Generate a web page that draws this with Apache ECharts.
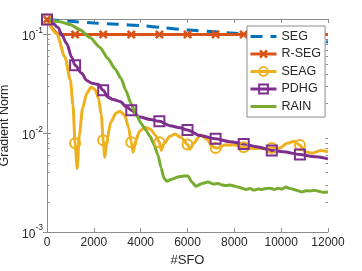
<!DOCTYPE html>
<html><head><meta charset="utf-8">
<script src="https://cdn.jsdelivr.net/npm/echarts@6/dist/echarts.min.js"></script>
<style>html,body{margin:0;padding:0;background:#fff}#c{width:362px;height:271px}</style>
</head><body><div id="c"></div>
<script>
// ---- data ----
const xTicks = [0, 2000, 4000, 6000, 8000, 10000, 12000];
const yMajorTicks = [0.001, 0.01, 0.1];
const yMinorTicks = [0.002,0.003,0.004,0.005,0.006,0.007,0.008,0.009,0.02,0.03,0.04,0.05,0.06,0.07,0.08,0.09];
const markX = [0,1200,2400,3600,4800,6000,7200,8400,9600,10800];

const segX = [0,1000,2000,3000,4000,5000,6000,7000,8000,9000,10000,11000,12000];
const segY = [0.142,0.136,0.131,0.127,0.123,0.117,0.111,0.107,0.103,0.099,0.094,0.089,0.084];

const rsegX = [0,200,400,600,1200,2400,3600,4800,6000,7200,8400,9600,10800,12000];
const rsegY = [0.142,0.118,0.104,0.1,0.1,0.1,0.1,0.1,0.1,0.1,0.1,0.1,0.1,0.1];

const seagX = [0,414,769,1000,1110,1200,1290,1380,1520,1700,1880,2050,2200,2320,2400,2470,2560,2720,2940,3120,3320,3480,3600,3680,3780,3950,4180,4420,4620,4800,4880,5000,5250,5470,5720,6000,6100,6250,6560,6830,7050,7200,7300,7600,8000,8400,8850,9250,9600,9950,10250,10550,10800,11000,11350,11700,12000];
const seagY = [0.142,0.102,0.0587,0.0343,0.0192,0.0079,0.0044,0.0096,0.0179,0.0254,0.0292,0.0278,0.0226,0.0152,0.0085,0.0057,0.0085,0.0129,0.0159,0.0167,0.0152,0.0115,0.0081,0.0064,0.0083,0.0105,0.0115,0.011,0.0096,0.0081,0.0067,0.0079,0.0093,0.0098,0.0091,0.0077,0.0069,0.0079,0.0096,0.0087,0.0074,0.0071,0.0071,0.0076,0.0076,0.0072,0.007,0.007,0.0071,0.0071,0.0079,0.0083,0.0076,0.0065,0.0063,0.0067,0.0065];

const pdhgX = [0,213,470,640,841,1055,1200,1482,1695,1922,2178,2400,2605,2819,3117,3403,3600,3971,4398,4800,5252,5679,6000,6533,7200,7814,8400,8955,9600,10078,10800,11358,12000];
const pdhgY = [0.142,0.132,0.118,0.098,0.081,0.0587,0.0487,0.0404,0.0343,0.032,0.0313,0.0272,0.0231,0.022,0.021,0.0185,0.0171,0.0146,0.0138,0.0132,0.0119,0.0114,0.0108,0.0095,0.0088,0.0082,0.0078,0.0073,0.0067,0.0065,0.0061,0.0058,0.0055];

const rainX = [0,555,982,1409,1836,2263,2605,2904,3160,3373,3587,3800,4014,4227,4398,4569,4740,4868,4996,5124,5338,5594,5850,6020,6191,6362,6618,6874,7131,7300,7472,7650,7814,8000,8156,8330,8497,8670,8839,9000,9181,9350,9522,9700,9864,10030,10206,10380,10547,10720,10889,11060,11230,11400,11572,11780,12000];
const rainY = [0.142,0.135,0.126,0.112,0.093,0.074,0.057,0.045,0.036,0.027,0.020,0.0156,0.0126,0.0107,0.0093,0.0077,0.0060,0.0045,0.0035,0.00327,0.00343,0.0036,0.00368,0.00368,0.0032,0.0029,0.0031,0.0032,0.00305,0.0031,0.0030,0.00295,0.0030,0.00292,0.00285,0.00278,0.0027,0.00275,0.00266,0.00272,0.0027,0.00275,0.00278,0.0027,0.00278,0.00272,0.00285,0.00276,0.0027,0.00262,0.00254,0.00262,0.0026,0.00265,0.0026,0.00252,0.00254];

// ---- styling ----
const FONT = "'Liberation Sans', Arial, Helvetica, sans-serif";
const AX = '#8c8c8c', TXT = '#262626';
const C = {SEG:'#0072BD', RSEG:'#D95319', SEAG:'#EDB120', PDHG:'#7E2F8E', RAIN:'#77AC30'};
const L = v => Math.log10(v);
const yMin = -3, yMax = -0.843;
const xMin = 0, xMax = 12000;
const xMark = 'path://M0,2L2,0L5,3L8,0L10,2L7,5L10,8L8,10L5,7L2,10L0,8L3,5Z';

function pts(xs, ys){ return xs.map((x,i)=>[x, L(ys[i])]); }
const markSize = s => (v => markX.indexOf(v[0]) >= 0 ? s : 0);

const lineAxisStyle = {lineStyle:{color:AX, width:1}};
const gridRect = {left:47, right:34, top:19, bottom:39, containLabel:false, outerBoundsMode:'none'};

const option = {
  animation:false,
  backgroundColor:'#fff',
  textStyle:{fontFamily:FONT},
  grid:[Object.assign({}, gridRect), Object.assign({}, gridRect)],
  xAxis:[
    {type:'value', gridIndex:0, position:'bottom', min:xMin, max:xMax, interval:2000,
     axisLine:Object.assign({show:true}, lineAxisStyle), splitLine:{show:false},
     axisTick:{show:true, inside:true, length:4, lineStyle:{color:AX}, customValues:xTicks},
     axisLabel:{color:TXT, fontSize:12, fontFamily:FONT, margin:5, customValues:xTicks, formatter: v => String(v)},
     name:'#SFO', nameLocation:'middle', nameGap:20, nameTextStyle:{color:TXT, fontSize:13, fontFamily:FONT}},
    {type:'value', gridIndex:0, position:'top', min:xMin, max:xMax, interval:2000,
     axisLine:Object.assign({show:true}, lineAxisStyle), splitLine:{show:false},
     axisTick:{show:true, inside:true, length:4, lineStyle:{color:AX}, customValues:xTicks},
     axisLabel:{show:false}},
    {type:'value', gridIndex:1, min:xMin, max:xMax, show:false}
  ],
  yAxis:[
    {type:'value', gridIndex:0, position:'left', min:yMin, max:yMax,
     axisLine:Object.assign({show:true}, lineAxisStyle), splitLine:{show:false},
     axisTick:{show:true, inside:true, length:4, lineStyle:{color:AX}, customValues:yMajorTicks.map(L)},
     axisLabel:{customValues:yMajorTicks.map(L), margin:4,
       formatter: v => '{b|10}{s|' + Math.round(v) + '}',
       rich:{b:{fontSize:12, color:TXT, fontFamily:FONT, verticalAlign:'bottom', lineHeight:17},
             s:{fontSize:8.5, color:TXT, fontFamily:FONT, verticalAlign:'top', lineHeight:17}}},
     name:'Gradient Norm', nameLocation:'middle', nameGap:33, nameTextStyle:{color:TXT, fontSize:12.5, fontFamily:FONT}},
    {type:'value', gridIndex:0, position:'right', min:yMin, max:yMax,
     axisLine:Object.assign({show:true}, lineAxisStyle), splitLine:{show:false},
     axisTick:{show:true, inside:true, length:4, lineStyle:{color:AX}, customValues:yMajorTicks.map(L)},
     axisLabel:{show:false}},
    {type:'value', gridIndex:1, position:'left', min:yMin, max:yMax,
     axisLine:{show:false}, splitLine:{show:false},
     axisTick:{show:true, inside:true, length:2.5, lineStyle:{color:AX}, customValues:yMinorTicks.map(L)},
     axisLabel:{show:false}},
    {type:'value', gridIndex:1, position:'right', min:yMin, max:yMax,
     axisLine:{show:false}, splitLine:{show:false},
     axisTick:{show:true, inside:true, length:2.5, lineStyle:{color:AX}, customValues:yMinorTicks.map(L)},
     axisLabel:{show:false}}
  ],
  legend:{
    orient:'vertical', left:247, top:26, padding:[4,4,4,2], itemGap:4.5, itemWidth:26, itemHeight:11, itemTextGap:3,
    backgroundColor:'#fff', borderColor:AX, borderWidth:1, borderRadius:0,
    textStyle:{color:TXT, fontSize:12.5, fontFamily:FONT},
    lineStyle:{width:3},
    data:[
      {name:'SEG', itemStyle:{color:'rgba(0,0,0,0)', borderWidth:0}},
      {name:'R-SEG'},
      {name:'SEAG', itemStyle:{color:'rgba(0,0,0,0)', borderColor:C.SEAG, borderWidth:2}},
      {name:'PDHG', itemStyle:{color:'rgba(0,0,0,0)', borderColor:C.PDHG, borderWidth:2}},
      {name:'RAIN', itemStyle:{color:'rgba(0,0,0,0)', borderWidth:0}}
    ]
  },
  series:[
    {name:'SEG', type:'line', xAxisIndex:0, yAxisIndex:0, data:pts(segX, segY), symbol:'none', clip:false,
     smooth:0.3, color:C.SEG, lineStyle:{color:C.SEG, width:3, type:[12,8]}},
    {name:'R-SEG', type:'line', xAxisIndex:0, yAxisIndex:0, data:pts(rsegX, rsegY), symbol:xMark, symbolSize:markSize(9), clip:false,
     smooth:0.3, color:C.RSEG, itemStyle:{color:C.RSEG}, lineStyle:{color:C.RSEG, width:3}},
    {name:'SEAG', type:'line', xAxisIndex:0, yAxisIndex:0, data:pts(seagX, seagY), symbol:'circle', symbolSize:markSize(10), clip:false,
     smooth:0.25, smoothMonotone:'x', color:C.SEAG, itemStyle:{color:'rgba(0,0,0,0)', borderColor:C.SEAG, borderWidth:2}, lineStyle:{color:C.SEAG, width:3}},
    {name:'PDHG', type:'line', xAxisIndex:0, yAxisIndex:0, data:pts(pdhgX, pdhgY), symbol:'rect', symbolSize:markSize(10), clip:false,
     smooth:0.3, smoothMonotone:'x', color:C.PDHG, itemStyle:{color:'rgba(0,0,0,0)', borderColor:C.PDHG, borderWidth:2}, lineStyle:{color:C.PDHG, width:3}},
    {name:'RAIN', type:'line', xAxisIndex:0, yAxisIndex:0, data:pts(rainX, rainY), symbol:'none', clip:false,
     smooth:0.2, smoothMonotone:'x', color:C.RAIN, lineStyle:{color:C.RAIN, width:3}}
  ]
};
const chart = echarts.init(document.getElementById('c'), null, {renderer:'canvas'});
chart.setOption(option);
</script></body></html>
